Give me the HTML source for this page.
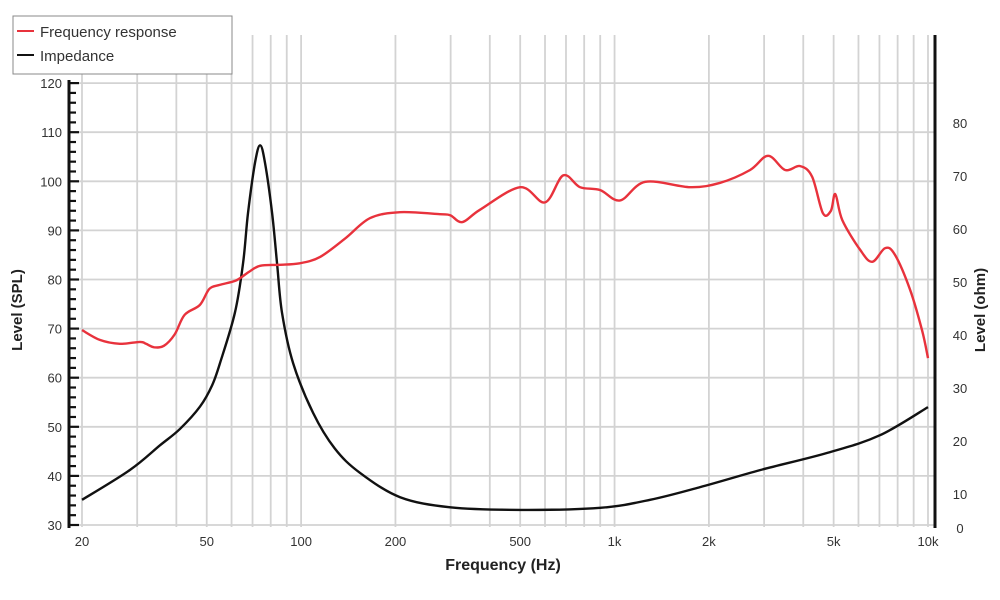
<!DOCTYPE html>
<html><head><meta charset="utf-8"><style>
html,body{margin:0;padding:0;background:#fff;}
svg{display:block;font-family:"Liberation Sans",sans-serif;}
</style></head><body>
<svg id="chart" width="1000" height="600" viewBox="0 0 1000 600">
<g id="grid"></g>
<g id="axes"></g>
<g id="series"></g>
<text x="22" y="310" transform="rotate(-90 22 310)" text-anchor="middle" font-size="15" font-weight="bold" fill="#222">Level (SPL)</text>
<text x="985" y="310" transform="rotate(-90 985 310)" text-anchor="middle" font-size="15" font-weight="bold" fill="#222">Level (ohm)</text>
<text x="503" y="570" text-anchor="middle" font-size="16" font-weight="bold" fill="#222">Frequency (Hz)</text>
<g>
<rect x="13" y="16" width="219" height="58" fill="#fff" stroke="#888" stroke-width="1"/>
<g>
<line x1="17" y1="31" x2="34" y2="31" stroke="#e8323c" stroke-width="2"/>
<text x="40" y="37" font-size="15" fill="#333">Frequency response</text></g>
<g>
<line x1="17" y1="55" x2="34" y2="55" stroke="#111" stroke-width="2"/>
<text x="40" y="61" font-size="15" fill="#333">Impedance</text></g>
</g>
</svg>
<script>
const splFreq=[20,22.8,26.4,30.6,32,34,36.5,39.5,42.5,47.5,51,55,62,68,74,85,99,115,138,166,207,277,299,327,372,500,600,686,776,900,1042,1253,1744,2173,2706,3090,3500,3910,4270,4620,4900,5060,5330,6080,6640,7300,7850,8770,9570,10000];
const splDb=[69.7,67.7,66.9,67.3,66.9,66.2,66.5,68.8,72.8,74.8,78.1,78.9,79.8,81.5,82.8,83.0,83.3,84.6,88.3,92.5,93.7,93.3,93.1,91.7,94.2,98.8,95.7,101.2,98.8,98.2,96.1,99.9,98.8,99.7,102.3,105.2,102.3,103.1,100.9,93.5,94.0,97.4,92.1,86.0,83.6,86.4,85.0,77.9,69.7,64.0];
const impFreq=[20,28.4,35.5,41.1,47.6,52,55.1,61.5,65.3,67.7,71.3,74,76.7,80.8,83.8,86.9,94.3,109.2,128,154,207,299,500,900,1298,1875,2912,4870,7030,10000];
const impOhm=[8.9,14.5,19.2,22.3,26.5,30.5,34.7,44.2,53.6,63,72.5,75.8,72.5,63,53.6,44.2,34.7,25.3,18.6,14.0,9.4,7.5,7.0,7.4,8.9,11.3,14.5,17.9,21.1,26.4];
const dbTicks=[30,40,50,60,70,80,90,100,110,120];
const ohmTicks=[0,10,20,30,40,50,60,70,80];
const freqGrid=[20,30,40,50,60,70,80,90,100,200,300,400,500,600,700,800,900,1000,2000,3000,4000,5000,6000,7000,8000,9000,10000];
const freqLabelVals=[20,50,100,200,500,1000,2000,5000,10000];
const freqLabelText=["20","50","100","200","500","1k","2k","5k","10k"];

const NS="http://www.w3.org/2000/svg";
const X0=82,X1=928,TOP=35,BOT=527;
function xS(f){return X0+(X1-X0)*Math.log10(f/20)/Math.log10(500);}
function yL(db){return 525-(db-30)*4.91;}
function yR(o){return 547-o*5.3;}
function mk(tag,attrs,parent){const e=document.createElementNS(NS,tag);for(const k in attrs)e.setAttribute(k,attrs[k]);parent.appendChild(e);return e;}
const grid=document.getElementById('grid'),axes=document.getElementById('axes'),series=document.getElementById('series');

freqGrid.forEach(f=>{
  const l=mk('line',{x1:xS(f),x2:xS(f),y1:TOP,y2:BOT,stroke:'#d3d3d3','stroke-width':1.8},grid);
  
  
});
dbTicks.forEach(d=>{
  const l=mk('line',{x1:70,x2:X1+7,y1:yL(d),y2:yL(d),stroke:'#d3d3d3','stroke-width':1.8},grid);
  
  
  const t=mk('text',{x:62,y:yL(d)+5,'text-anchor':'end','font-size':13,fill:'#333'},axes);
  t.textContent=d;
  
  
});
for(let d=30;d<=124;d+=2){
  const w=(d%10===0)?10:7;
  const l=mk('line',{x1:69,x2:69+w,y1:yL(d),y2:yL(d),stroke:'#111','stroke-width':2.2},axes);
  
  
}
const la=mk('line',{x1:69,x2:69,y1:80,y2:528,stroke:'#111','stroke-width':3},axes);


const ra=mk('line',{x1:935,x2:935,y1:TOP,y2:528,stroke:'#111','stroke-width':3},axes);


ohmTicks.forEach(o=>{
  const y=o===0?533:yR(o)+5;
  const t=mk('text',{x:960,y:y,'text-anchor':'middle','font-size':13,fill:'#333'},axes);
  t.textContent=o;
  
  
});
freqLabelVals.forEach((f,i)=>{
  const t=mk('text',{x:xS(f),y:546,'text-anchor':'middle','font-size':13,fill:'#333'},axes);
  t.textContent=freqLabelText[i];
  
  
});
function smooth(pts){
  let d='M'+pts[0][0].toFixed(1)+','+pts[0][1].toFixed(1);
  for(let i=0;i<pts.length-1;i++){
    const p0=pts[i-1]||pts[i],p1=pts[i],p2=pts[i+1],p3=pts[i+2]||p2;
    const c1=[p1[0]+(p2[0]-p0[0])/6,p1[1]+(p2[1]-p0[1])/6];
    const c2=[p2[0]-(p3[0]-p1[0])/6,p2[1]-(p3[1]-p1[1])/6];
    d+=' C'+c1.map(v=>v.toFixed(1))+' '+c2.map(v=>v.toFixed(1))+' '+p2[0].toFixed(1)+','+p2[1].toFixed(1);
  }
  return d;
}
const imp=mk('path',{d:smooth(impFreq.map((f,i)=>[xS(f),yR(impOhm[i])])),fill:'none',stroke:'#111','stroke-width':2.4,'stroke-linejoin':'round'},series);


const spl=mk('path',{d:smooth(splFreq.map((f,i)=>[xS(f),yL(splDb[i])])),fill:'none',stroke:'#e8323c','stroke-width':2.4,'stroke-linejoin':'round'},series);


</script>
</body></html>
